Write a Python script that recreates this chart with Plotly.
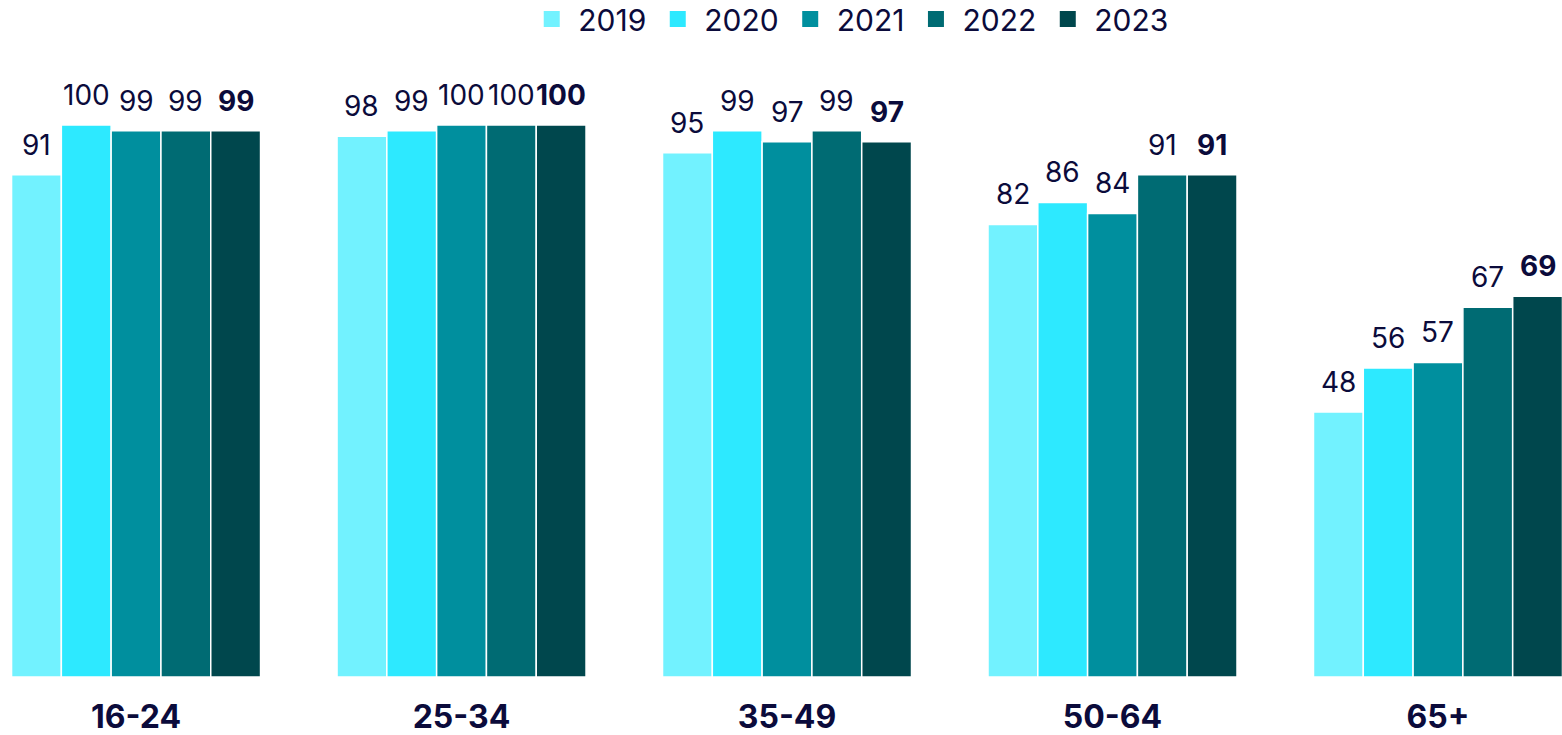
import plotly.graph_objects as go

age_groups = ["16-24", "25-34", "35-49", "50-64", "65+"]
years = ["2019", "2020", "2021", "2022", "2023"]
values_2019 = [91, 98, 95, 82, 48]
values_2020 = [100, 99, 99, 86, 56]
values_2021 = [99, 100, 97, 84, 57]
values_2022 = [99, 100, 99, 91, 67]
values_2023 = [99, 100, 97, 91, 69]
series = [values_2019, values_2020, values_2021, values_2022, values_2023]
colors = ["#72F2FF", "#2DE9FF", "#008F9E", "#006B73", "#00474D"]

ink = "#0B0B3B"
font_family = "Inter, Roboto, sans-serif"
bar_gap = 0.235
n_series = len(years)
slot = (1 - bar_gap) / n_series

fig = go.Figure()
annotations = []
for j, (year, vals, col) in enumerate(zip(years, series, colors)):
    bold = j == n_series - 1
    fig.add_trace(go.Bar(
        name=year,
        x=list(range(len(age_groups))),
        y=vals,
        marker=dict(color=col, line=dict(color="white", width=1.5)),
        cliponaxis=False,
        showlegend=False,
    ))
    # legend entry with a larger square swatch
    fig.add_trace(go.Scatter(
        name=year,
        x=[None], y=[None],
        mode="markers",
        marker=dict(symbol="square", size=16, color=col),
        showlegend=True,
    ))
    # value labels sit a little above each bar
    for i, v in enumerate(vals):
        annotations.append(dict(
            x=i + (j - (n_series - 1) / 2) * slot,
            y=v,
            xref="x", yref="y",
            text=f"<b>{v}</b>" if bold else str(v),
            showarrow=False,
            yanchor="bottom",
            yshift=11,
            font=dict(family=font_family, size=28, color=ink),
        ))

fig.update_layout(
    width=1562,
    height=735,
    barmode="group",
    bargap=bar_gap,
    bargroupgap=0,
    plot_bgcolor="white",
    paper_bgcolor="white",
    margin=dict(l=0, r=0, t=60, b=58, autoexpand=False),
    font=dict(family=font_family, color=ink),
    showlegend=True,
    annotations=annotations,
    legend=dict(
        orientation="h",
        x=0.544, xanchor="center",
        y=1.1086, yanchor="top",
        yref="paper",
        font=dict(size=30, color=ink),
        traceorder="normal",
        itemwidth=43,
        tracegroupgap=0,
    ),
    xaxis=dict(
        range=[-0.418, 4.381],
        tickmode="array",
        tickvals=list(range(len(age_groups))),
        ticktext=age_groups,
        showgrid=False,
        showline=False,
        zeroline=False,
        ticks="",
        ticklabelstandoff=18,
        tickfont=dict(size=32, color=ink, weight="bold"),
    ),
    yaxis=dict(
        range=[0, 111.8],
        visible=False,
        showgrid=False,
        zeroline=False,
    ),
)

fig.write_html("out.html")
